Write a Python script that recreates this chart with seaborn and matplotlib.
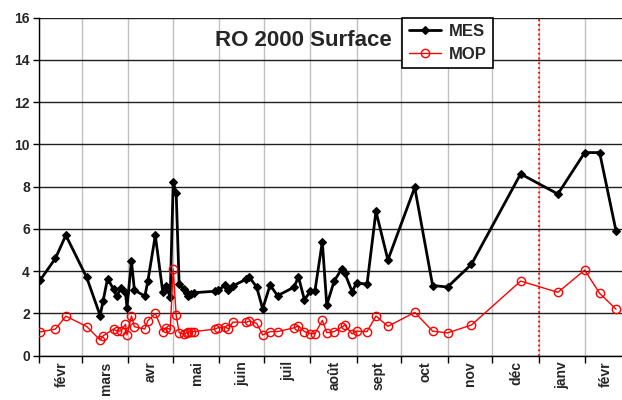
import numpy as np
import seaborn as sns
import matplotlib.pyplot as plt
import matplotlib.dates as mdates
import matplotlib.ticker as mticker
import pandas as pd

sns.set_theme(style="white")
plt.rcParams['font.family'] = ['Liberation Sans', 'DejaVu Sans']

# sampling dates and values
dates = ["2000-02-02", "2000-02-12", "2000-02-19", "2000-03-04", "2000-03-13", "2000-03-15",
         "2000-03-18", "2000-03-22", "2000-03-24", "2000-03-27", "2000-03-30", "2000-03-31",
         "2000-04-03", "2000-04-05", "2000-04-12", "2000-04-14", "2000-04-19", "2000-04-24",
         "2000-04-26", "2000-04-29", "2000-05-01", "2000-05-03", "2000-05-05", "2000-05-08",
         "2000-05-10", "2000-05-11", "2000-05-13", "2000-05-15", "2000-05-29", "2000-05-31",
         "2000-06-05", "2000-06-07", "2000-06-10", "2000-06-19", "2000-06-21", "2000-06-26",
         "2000-06-30", "2000-07-05", "2000-07-10", "2000-07-21", "2000-07-24", "2000-07-28",
         "2000-08-01", "2000-08-04", "2000-08-09", "2000-08-12", "2000-08-17", "2000-08-22",
         "2000-08-24", "2000-08-29", "2000-09-01", "2000-09-08", "2000-09-14", "2000-09-22",
         "2000-10-10", "2000-10-22", "2000-11-01", "2000-11-17", "2000-12-20", "2001-01-14",
         "2001-02-01", "2001-02-11", "2001-02-22"]

mes = [3.6, 4.6, 5.7, 3.7, 1.9, 2.6,
       3.65, 3.14, 2.82, 3.18, 3.03, 2.27,
       4.48, 3.1, 2.82, 3.53, 5.69, 3.03,
       3.31, 2.79, 8.2, 7.72, 3.38, 3.14,
       2.95, 2.82, 2.92, 2.98, 3.05, 3.09,
       3.34, 3.1, 3.3, 3.62, 3.73, 3.24,
       2.22, 3.34, 2.84, 3.24, 3.73, 2.65,
       3.04, 3.04, 5.39, 2.4, 3.54, 4.1,
       3.92, 3.03, 3.45, 3.38, 6.83, 4.53,
       7.96, 3.32, 3.25, 4.32, 8.6, 7.65,
       9.61, 9.61, 5.9]

mop = [1.13, 1.26, 1.87, 1.38, 0.74, 0.94,
       np.nan, 1.26, 1.17, 1.17, 1.49, 0.98,
       1.88, 1.37, 1.26, 1.66, 2.0, 1.14,
       1.32, 1.25, 4.09, 1.91, 1.09, 1.01,
       1.09, 1.14, 1.14, 1.14, 1.26, 1.32,
       1.37, 1.26, 1.59, 1.58, 1.64, 1.53,
       0.98, 1.14, 1.14, 1.32, 1.41, 1.14,
       1.05, 1.03, 1.67, 1.09, 1.14, 1.35,
       1.45, 1.03, 1.16, 1.14, 1.88, 1.39,
       2.05, 1.16, 1.08, 1.45, 3.53, 3.0,
       4.05, 2.95, 2.2]

label_dates = ["2000-02-16", "2000-03-17", "2000-04-16", "2000-05-17", "2000-06-16",
               "2000-07-17", "2000-08-17", "2000-09-16", "2000-10-17", "2000-11-16",
               "2000-12-17", "2001-01-17", "2001-02-15"]
month_labels = ["févr", "mars", "avr", "mai", "juin", "juil", "août", "sept", "oct",
                "nov", "déc", "janv", "févr"]

df_mes = pd.DataFrame({"date": pd.to_datetime(dates), "value": mes}).dropna()
df_mop = pd.DataFrame({"date": pd.to_datetime(dates), "value": mop}).dropna()

fig = plt.figure(figsize=(6.22, 4.0), dpi=100)
ax = fig.add_axes([39 / 622, 44.3 / 400, 583 / 622, 338.2 / 400])

sns.lineplot(data=df_mes, x="date", y="value", ax=ax, color="black", lw=2,
             marker="D", markersize=4.5, markeredgecolor="black", markeredgewidth=0.8,
             label="MES", zorder=3)
sns.lineplot(data=df_mop, x="date", y="value", ax=ax, color="red", lw=1,
             marker="o", markersize=6, markerfacecolor="none", markeredgecolor="red",
             markeredgewidth=1, label="MOP", zorder=3)

ax.axvline(pd.Timestamp("2001-01-01"), color="red", ls=":", lw=1.3, zorder=2)

ax.set_xlim(pd.Timestamp("2000-02-01"), pd.Timestamp("2001-02-26"))
ax.set_ylim(0, 16)
ax.set_yticks(np.arange(0, 17, 2))

ax.xaxis.set_major_locator(mdates.MonthLocator())
ax.xaxis.set_major_formatter(mticker.NullFormatter())
ax.xaxis.set_minor_locator(mticker.FixedLocator(mdates.date2num(pd.to_datetime(label_dates))))
ax.xaxis.set_minor_formatter(mticker.FixedFormatter(month_labels))

ax.tick_params(axis="x", which="major", direction="out", length=5, width=1, color="black", bottom=True)
ax.tick_params(axis="x", which="minor", length=0, pad=4, labelsize=10, labelrotation=90, bottom=True)
ax.tick_params(axis="y", direction="out", length=4.5, width=1, color="black", left=True,
               labelsize=10, pad=2)
for lbl in ax.get_xticklabels(minor=True) + ax.get_yticklabels():
    lbl.set_fontweight("bold")

ax.xaxis.grid(True, which="major", color="#c0c0c0", lw=1)
ax.yaxis.grid(True, color="#202020", lw=1)
ax.set_axisbelow(True)

for side in ["top", "right"]:
    ax.spines[side].set_visible(False)
for side in ["left", "bottom"]:
    ax.spines[side].set_color("black")
    ax.spines[side].set_linewidth(1)

ax.set_xlabel("")
ax.set_ylabel("")

ax.text(0.453, 0.933, "RO 2000 Surface", transform=ax.transAxes, ha="center", va="center",
        fontsize=16, fontweight="bold")

leg = ax.legend(loc="upper left", bbox_to_anchor=(0.623, 1.0), borderaxespad=0,
                frameon=True, fancybox=False, framealpha=1, edgecolor="black",
                prop={"weight": "bold", "size": 12}, handlelength=1.9, handletextpad=0.5,
                labelspacing=0.45, borderpad=0.4)
leg.get_frame().set_linewidth(1.2)

fig.savefig("out.png", dpi=100)
